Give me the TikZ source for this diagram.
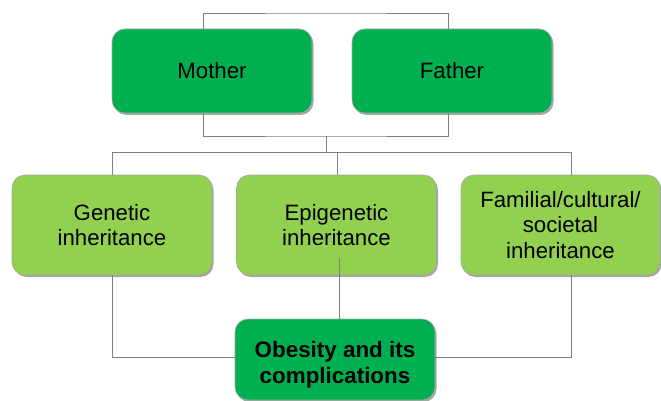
\documentclass[tikz,border=0pt]{standalone}
\usepackage{fontspec}
\setmainfont{Liberation Sans}
\usetikzlibrary{shadows}
\definecolor{darkgr}{RGB}{0,176,80}
\definecolor{lightgr}{RGB}{146,208,80}
\definecolor{linegray}{RGB}{128,128,128}
\tikzset{
  box/.style={rectangle, rounded corners=13pt, draw=black!35, line width=0.6pt,
    align=center, inner sep=2pt, text=black,
    font=\fontsize{22.2}{25.7}\selectfont,
    drop shadow={shadow xshift=1.5pt, shadow yshift=-2pt, fill=black, opacity=0.35}},
  parent/.style={box, fill=darkgr, minimum width=200pt, minimum height=84pt},
  child/.style={box, fill=lightgr, minimum width=200pt, minimum height=100pt},
  result/.style={box, fill=darkgr, minimum width=200pt, minimum height=81pt,
    font=\bfseries\fontsize{22.4}{26}\selectfont},
  conn/.style={draw=linegray, line width=0.8pt}
}
\begin{document}
\begin{tikzpicture}[x=1pt,y=-1pt]
\useasboundingbox (0,0) rectangle (661,401);
\node[parent] (mother) at (212,71) {Mother};
\node[parent] (father) at (452,71) {Father};
\node[child] (genetic) at (112,225) {Genetic\\inheritance};
\node[child] (epi) at (336.5,225) {Epigenetic\\inheritance};
\node[child, minimum width=199pt] (fam) at (560.5,225) {Familial/cultural/\\societal\\inheritance};
\node[result] (obes) at (335,359.5) {\rule{0pt}{26pt}Obesity and its\\complications};
\coordinate (topbar) at (326,13);
\coordinate (midbar) at (326,136);
\coordinate (split) at (326,152);
\coordinate (epistart) at (339,258);
\draw[conn] ([xshift=-9pt]mother.north) |- (topbar) -| ([xshift=-4pt]father.north);
\draw[conn] ([xshift=-9pt]mother.south) |- (midbar) -| ([xshift=-4pt]father.south);
\draw[conn] (midbar) -- (split);
\draw[conn] (split) -| (genetic.north);
\draw[conn] (split) -| ([xshift=0.5pt]epi.north);
\draw[conn] (split) -| ([xshift=10.5pt]fam.north);
\draw[conn] (genetic.south) |- ([yshift=2.5pt]obes.west);
\draw[conn] ([xshift=10.5pt]fam.south) |- ([yshift=2.5pt]obes.east);
\draw[conn] (epistart) -- (epistart |- obes.north);
\end{tikzpicture}
\end{document}
